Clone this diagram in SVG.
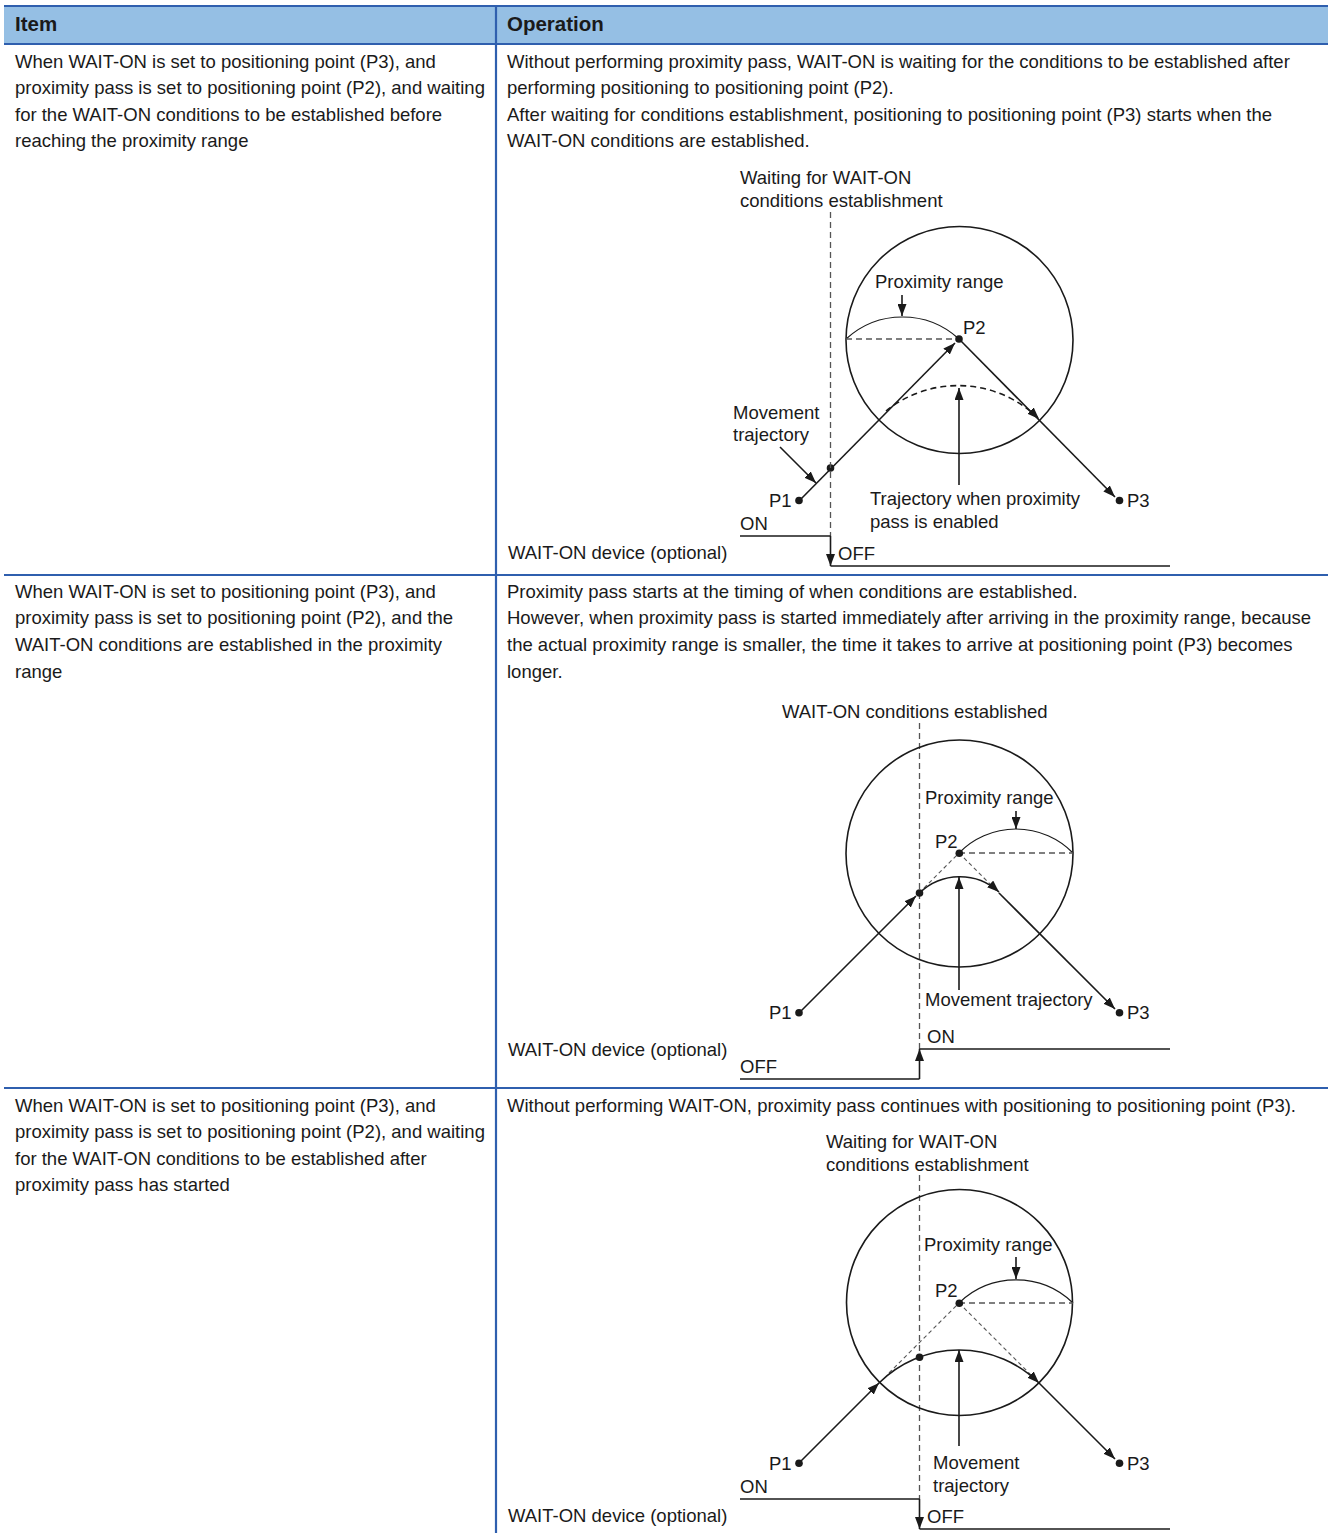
<svg xmlns="http://www.w3.org/2000/svg" width="1329" height="1533" viewBox="0 0 1329 1533">
<defs>
<marker id="ah" markerUnits="userSpaceOnUse" markerWidth="12" markerHeight="9" refX="12" refY="4.5" orient="auto">
<path d="M0,0 L12,4.5 L0,9 z" fill="#1a1a1a"/>
</marker>
<style>
text{font-family:"Liberation Sans",Arial,sans-serif;font-size:18.5px;fill:#1a1a1a}
.hd{font-weight:bold;font-size:20.5px}
.ln{stroke:#1a1a1a;stroke-width:1.6;fill:none}
.ar{stroke:#1a1a1a;stroke-width:1.6;fill:none;marker-end:url(#ah)}
.thin{stroke:#1a1a1a;stroke-width:1.2;fill:none}
.vd{stroke:#555;stroke-width:1.3;stroke-dasharray:6,4;fill:none}
.hdash{stroke:#555;stroke-width:1.3;stroke-dasharray:6,4;fill:none}
.sd{stroke:#555;stroke-width:1.1;stroke-dasharray:4,3;fill:none}
.ad{stroke:#1a1a1a;stroke-width:1.6;stroke-dasharray:6,4;fill:none;marker-end:url(#ah)}
.dot{fill:#1a1a1a}
.tb{stroke:#2f5fae;stroke-width:2.2;fill:none}
</style>
</defs>
<rect width="1329" height="1533" fill="#ffffff"/>

<g id="table">
<rect x="4" y="6" width="1324" height="38" fill="#95bfe4"/>
<line class="tb" x1="4" y1="6" x2="1328" y2="6"/>
<line class="tb" x1="4" y1="44" x2="1328" y2="44"/>
<line class="tb" x1="4" y1="575" x2="1328" y2="575"/>
<line class="tb" x1="4" y1="1088" x2="1328" y2="1088"/>
<line class="tb" x1="496" y1="6" x2="496" y2="1533"/>
<text class="hd" x="15" y="31">Item</text>
<text class="hd" x="507" y="31">Operation</text>
</g>

<g id="row1-text">
<text x="15" y="67.5">When WAIT-ON is set to positioning point (P3), and</text>
<text x="15" y="94">proximity pass is set to positioning point (P2), and waiting</text>
<text x="15" y="120.5">for the WAIT-ON conditions to be established before</text>
<text x="15" y="147">reaching the proximity range</text>
<text x="507" y="67.5">Without performing proximity pass, WAIT-ON is waiting for the conditions to be established after</text>
<text x="507" y="94">performing positioning to positioning point (P2).</text>
<text x="507" y="120.5">After waiting for conditions establishment, positioning to positioning point (P3) starts when the</text>
<text x="507" y="147">WAIT-ON conditions are established.</text>
</g>

<g id="row2-text">
<text x="15" y="597.5">When WAIT-ON is set to positioning point (P3), and</text>
<text x="15" y="624">proximity pass is set to positioning point (P2), and the</text>
<text x="15" y="651">WAIT-ON conditions are established in the proximity</text>
<text x="15" y="677.5">range</text>
<text x="507" y="597.5">Proximity pass starts at the timing of when conditions are established.</text>
<text x="507" y="624">However, when proximity pass is started immediately after arriving in the proximity range, because</text>
<text x="507" y="651">the actual proximity range is smaller, the time it takes to arrive at positioning point (P3) becomes</text>
<text x="507" y="677.5">longer.</text>
</g>

<g id="row3-text">
<text x="15" y="1111.5">When WAIT-ON is set to positioning point (P3), and</text>
<text x="15" y="1138">proximity pass is set to positioning point (P2), and waiting</text>
<text x="15" y="1164.5">for the WAIT-ON conditions to be established after</text>
<text x="15" y="1191">proximity pass has started</text>
<text x="507" y="1111.5">Without performing WAIT-ON, proximity pass continues with positioning to positioning point (P3).</text>
</g>

<g id="diagram1">
<text x="740" y="183.5">Waiting for WAIT-ON</text>
<text x="740" y="206.5">conditions establishment</text>
<circle class="ln" cx="959.5" cy="340" r="113.5"/>
<path class="thin" d="M846,339 A83.5,83.5 0 0 1 959,339"/>
<line class="hdash" x1="846" y1="339" x2="959" y2="339"/>
<text x="875" y="287.5">Proximity range</text>
<line class="ar" x1="902" y1="295" x2="902" y2="316"/>
<text x="963" y="333.5">P2</text>
<line class="ar" x1="799" y1="501" x2="955" y2="343"/>
<line class="ar" x1="959" y1="339" x2="1115" y2="497"/>
<path class="ad" d="M886,411 A114.8,114.8 0 0 1 1039,419"/>
<line class="ar" x1="959" y1="485" x2="959" y2="388"/>
<text x="733" y="418.5">Movement</text>
<text x="733" y="440.5">trajectory</text>
<line class="ar" x1="780" y1="447" x2="816" y2="483"/>
<circle class="dot" cx="799" cy="500.5" r="3.8"/>
<circle class="dot" cx="959" cy="339" r="3.8"/>
<circle class="dot" cx="1119.5" cy="500.5" r="3.8"/>
<circle class="dot" cx="830.5" cy="468" r="3.8"/>
<text x="769" y="506.5">P1</text>
<text x="1127" y="506.5">P3</text>
<text x="870" y="504.5">Trajectory when proximity</text>
<text x="870" y="527.5">pass is enabled</text>
<line class="vd" x1="830.5" y1="212" x2="830.5" y2="536"/>
<text x="740" y="529.5">ON</text>
<text x="508" y="558.5">WAIT-ON device (optional)</text>
<text x="838" y="559.5">OFF</text>
<polyline class="ln" points="740,536 830.5,536"/>
<line class="ar" x1="830.5" y1="536" x2="830.5" y2="566"/>
<line class="ln" x1="830.5" y1="566" x2="1170" y2="566"/>
</g>

<g id="diagram2">
<text x="782" y="717.5">WAIT-ON conditions established</text>
<line class="vd" x1="919.5" y1="723" x2="919.5" y2="1049"/>
<circle class="ln" cx="959.5" cy="853.5" r="113.5"/>
<path class="thin" d="M959,853 A79.7,79.7 0 0 1 1073,853"/>
<line class="hdash" x1="959" y1="853" x2="1073" y2="853"/>
<text x="925" y="804">Proximity range</text>
<line class="ar" x1="1016" y1="811" x2="1016" y2="829"/>
<text x="935" y="848">P2</text>
<line class="sd" x1="919" y1="893" x2="959" y2="853"/>
<line class="sd" x1="959" y1="853" x2="999" y2="893"/>
<line class="ar" x1="799" y1="1013" x2="916" y2="896"/>
<path class="ar" d="M919.5,893 A58,58 0 0 1 999,892"/>
<line class="ar" x1="999" y1="893" x2="1115" y2="1009"/>
<line class="ar" x1="959" y1="990" x2="959" y2="877"/>
<circle class="dot" cx="959.3" cy="853.3" r="3.8"/>
<circle class="dot" cx="919.5" cy="893" r="3.8"/>
<circle class="dot" cx="799" cy="1012.7" r="3.8"/>
<circle class="dot" cx="1119.5" cy="1012.7" r="3.8"/>
<text x="769" y="1019">P1</text>
<text x="1127" y="1019">P3</text>
<text x="925" y="1006">Movement trajectory</text>
<text x="927" y="1042.5">ON</text>
<text x="508" y="1055.5">WAIT-ON device (optional)</text>
<text x="740" y="1072.5">OFF</text>
<line class="ln" x1="740" y1="1079" x2="919.5" y2="1079"/>
<line class="ar" x1="919.5" y1="1079" x2="919.5" y2="1049"/>
<line class="ln" x1="919.5" y1="1049" x2="1170" y2="1049"/>
</g>

<g id="diagram3">
<text x="826" y="1147.5">Waiting for WAIT-ON</text>
<text x="826" y="1170.5">conditions establishment</text>
<line class="vd" x1="919.5" y1="1175" x2="919.5" y2="1499"/>
<circle class="ln" cx="959.5" cy="1302.5" r="113"/>
<path class="thin" d="M959,1303 A82,82 0 0 1 1073,1303"/>
<line class="hdash" x1="959" y1="1303" x2="1073" y2="1303"/>
<text x="924" y="1250.5">Proximity range</text>
<line class="ar" x1="1016" y1="1257" x2="1016" y2="1279"/>
<text x="935" y="1297">P2</text>
<line class="sd" x1="889" y1="1373" x2="959" y2="1303"/>
<line class="sd" x1="959" y1="1303" x2="1033" y2="1377"/>
<line class="ar" x1="799" y1="1463" x2="879" y2="1383"/>
<path class="ar" d="M879,1383 A113.5,113.5 0 0 1 1039,1383"/>
<line class="ar" x1="1039" y1="1383" x2="1115" y2="1459"/>
<line class="ar" x1="959" y1="1446" x2="959" y2="1350"/>
<circle class="dot" cx="959.3" cy="1303.3" r="3.8"/>
<circle class="dot" cx="919.5" cy="1357.3" r="3.8"/>
<circle class="dot" cx="799" cy="1463.3" r="3.8"/>
<circle class="dot" cx="1119.5" cy="1463.3" r="3.8"/>
<text x="769" y="1469.5">P1</text>
<text x="1127" y="1469.5">P3</text>
<text x="933" y="1468.5">Movement</text>
<text x="933" y="1491.5">trajectory</text>
<text x="740" y="1492.5">ON</text>
<text x="508" y="1521.5">WAIT-ON device (optional)</text>
<text x="927" y="1522.5">OFF</text>
<line class="ln" x1="740" y1="1499" x2="919.5" y2="1499"/>
<line class="ar" x1="919.5" y1="1499" x2="919.5" y2="1529"/>
<line class="ln" x1="919.5" y1="1529" x2="1170" y2="1529"/>
</g>
</svg>
